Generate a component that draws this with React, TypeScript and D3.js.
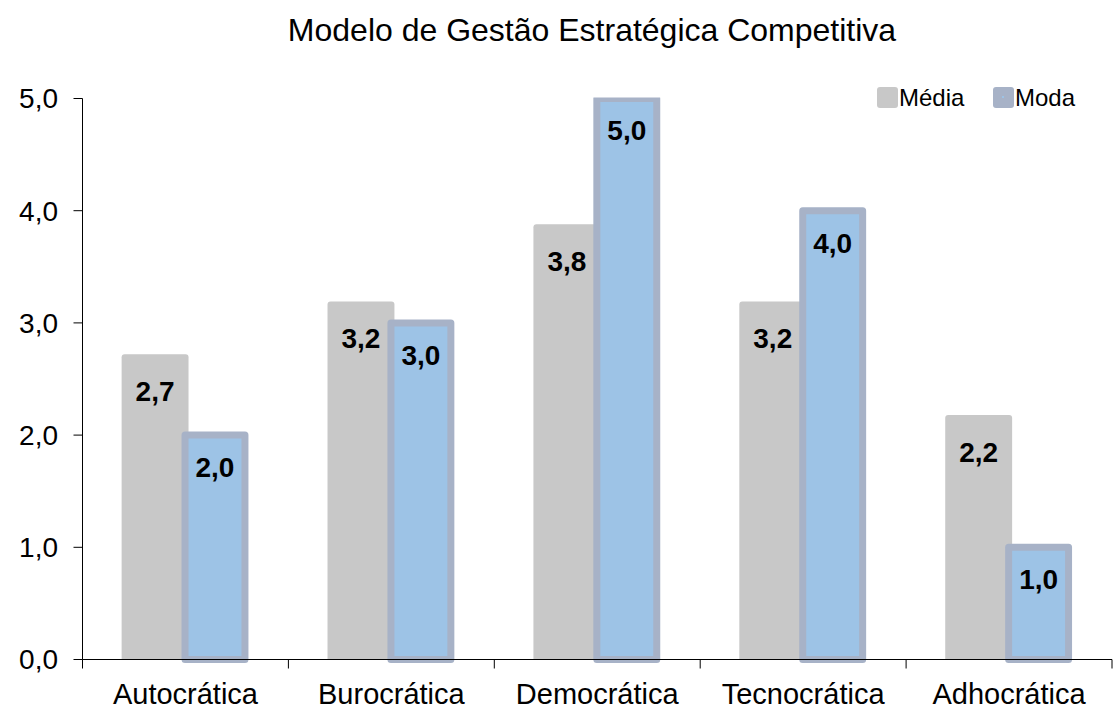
import React from "react";
import * as d3 from "d3";

const categories = ["Autocrática", "Burocrática", "Democrática", "Tecnocrática", "Adhocrática"];
const mediaValues = [2.72, 3.19, 3.88, 3.19, 2.18];
const modaValues = [2.0, 3.0, 5.0, 4.0, 1.0];
const mediaLabels = ["2,7", "3,2", "3,8", "3,2", "2,2"];
const modaLabels = ["2,0", "3,0", "5,0", "4,0", "1,0"];
const yTicks = [0, 1, 2, 3, 4, 5];
const seriesNames = ["Média", "Moda"];

const WIDTH = 1119;
const HEIGHT = 709;
const FONT = "'Liberation Sans', Arial, sans-serif";

export default function App() {
    const left = 82.5;
    const right = 1112;
    const top = 98.5;
    const bottom = 659.5;

    const x = d3.scaleBand<string>().domain(categories).range([left, right]).padding(0);
    const y = d3.scaleLinear().domain([0, 5]).range([bottom, top]);
    const bw = x.bandwidth();
    const barW = bw * 0.325;
    const mediaOff = bw * 0.19;
    const stroke = 7;
    // moda bar: stroke centred on its edges, outer edge overlaps the media bar a little
    const modaOff = mediaOff + barW - 7 + stroke / 2;
    const modaW = barW - stroke;

    const fmt = (v: number) => v.toFixed(1).replace(".", ",");

    return (
        <svg
            width={WIDTH}
            height={HEIGHT}
            style={{ position: "absolute", left: 0, top: 0, background: "#fff" }}
            fontFamily={FONT}
        >
            <defs>
                <clipPath id="plot-clip">
                    <rect x={left} y={top - 1} width={right - left} height={bottom - top + 6} />
                </clipPath>
            </defs>

            <text x={592} y={41} textAnchor="middle" fontSize={32} fill="#000">
                Modelo de Gestão Estratégica Competitiva
            </text>

            {/* bars */}
            <g clipPath="url(#plot-clip)">
                {categories.map((c, i) => {
                    const x0 = x(c)!;
                    const mx = x0 + mediaOff;
                    const my = y(mediaValues[i]);
                    const dx = x0 + modaOff;
                    const dy = y(modaValues[i]);
                    return (
                        <g key={c}>
                            <path
                                d={`M${mx},${bottom} V${my + 3} Q${mx},${my} ${mx + 3},${my} H${mx + barW - 3} Q${mx + barW},${my} ${mx + barW},${my + 3} V${bottom} Z`}
                                fill="#C8C8C8"
                            />
                            <rect
                                x={dx}
                                y={dy}
                                width={modaW}
                                height={bottom - dy}
                                fill="#9DC3E6"
                                stroke="#A7B2C7"
                                strokeWidth={stroke}
                                strokeLinejoin="round"
                            />
                        </g>
                    );
                })}
            </g>

            {/* data labels */}
            {categories.map((c, i) => {
                const x0 = x(c)!;
                return (
                    <g key={"dl" + c} fontSize={28} fontWeight="bold" fill="#000" textAnchor="middle">
                        <text x={x0 + mediaOff + barW / 2} y={y(mediaValues[i]) + 37} dy="0.35em">
                            {mediaLabels[i]}
                        </text>
                        <text x={x0 + modaOff + modaW / 2} y={y(modaValues[i]) + 32} dy="0.35em">
                            {modaLabels[i]}
                        </text>
                    </g>
                );
            })}

            {/* y axis */}
            <line x1={left} x2={left} y1={top} y2={bottom} stroke="#000" strokeWidth={1} />
            {yTicks.map((t) => (
                <g key={t}>
                    <line x1={left - 9} x2={left} y1={y(t)} y2={y(t)} stroke="#000" strokeWidth={1} />
                    <text x={58} y={y(t)} dy="0.35em" textAnchor="end" fontSize={28} fill="#000">
                        {fmt(t)}
                    </text>
                </g>
            ))}

            {/* x axis */}
            <line x1={left} x2={right} y1={bottom} y2={bottom} stroke="#000" strokeWidth={1} />
            {categories.concat([""]).map((c, i) => {
                const xx = i < categories.length ? x(c)! : right;
                return <line key={"t" + i} x1={xx} x2={xx} y1={bottom} y2={bottom + 9} stroke="#000" strokeWidth={1} />;
            })}
            {categories.map((c) => (
                <text key={"l" + c} x={x(c)! + bw / 2} y={704} textAnchor="middle" fontSize={29} fill="#000">
                    {c}
                </text>
            ))}

            {/* legend */}
            <rect x={877} y={87} width={21} height={21} rx={3} fill="#C8C8C8" />
            <text x={899} y={98} dy="0.35em" fontSize={24} fill="#000">{seriesNames[0]}</text>
            <rect x={993} y={87} width={21} height={21} rx={3} fill="#A7B2C7" />
            <rect x={1002} y={96} width={2} height={2} fill="#9DC3E6" />
            <text x={1015} y={98} dy="0.35em" fontSize={24} fill="#000">{seriesNames[1]}</text>
        </svg>
    );
}
